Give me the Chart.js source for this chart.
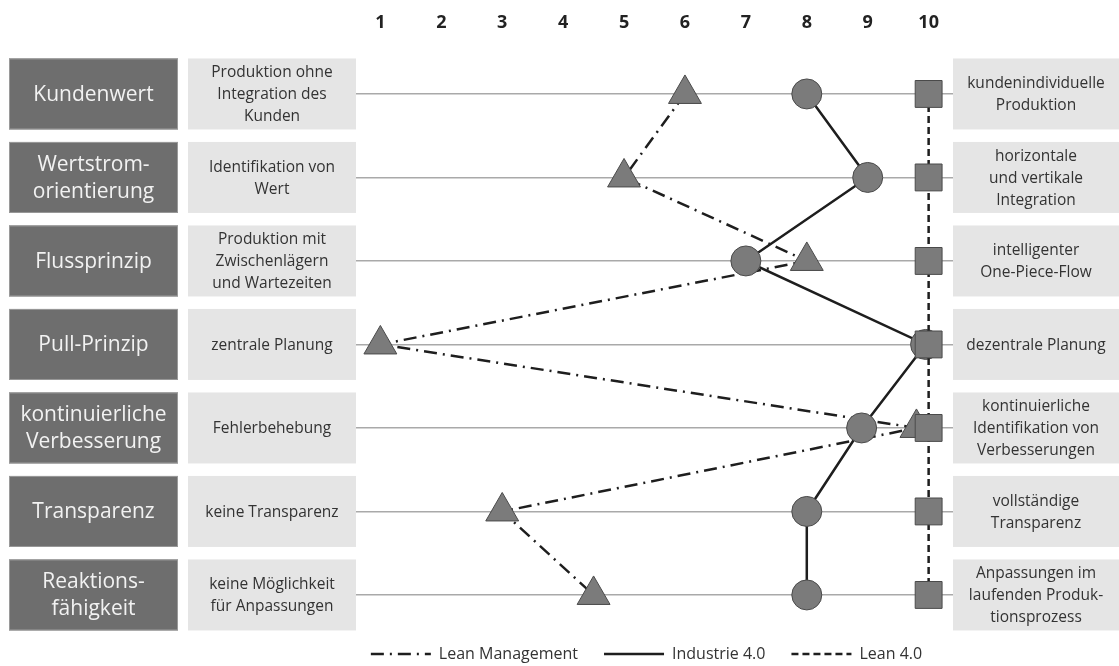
<!DOCTYPE html>
<html><head><meta charset="utf-8">
<script src="https://cdn.jsdelivr.net/npm/chart.js@4/dist/chart.umd.min.js"></script>
<style>html,body{margin:0;padding:0;background:#fff;}#wrap{width:1119px;height:666px;}</style>
</head><body><div id="wrap"><canvas id="c" width="1119" height="666"></canvas></div>
<script>
// ---- data ----
const rowNumbers = [1, 2, 3, 4, 5, 6, 7];
const principleLabels = [
  ['Kundenwert'], ['Wertstrom-', 'orientierung'], ['Flussprinzip'], ['Pull-Prinzip'],
  ['kontinuierliche', 'Verbesserung'], ['Transparenz'], ['Reaktions-', 'fähigkeit']
];
const lowEndLabels = [
  ['Produktion ohne', 'Integration des', 'Kunden'], ['Identifikation von', 'Wert'],
  ['Produktion mit', 'Zwischenlägern', 'und Wartezeiten'], ['zentrale Planung'],
  ['Fehlerbehebung'], ['keine Transparenz'], ['keine Möglichkeit', 'für Anpassungen']
];
const highEndLabels = [
  ['kundenindividuelle', 'Produktion'], ['horizontale', 'und vertikale', 'Integration'],
  ['intelligenter', 'One-Piece-Flow'], ['dezentrale Planung'],
  ['kontinuierliche', 'Identifikation von', 'Verbesserungen'], ['vollständige', 'Transparenz'],
  ['Anpassungen im', 'laufenden Produk-', 'tionsprozess']
];
const tickValues = [1, 2, 3, 4, 5, 6, 7, 8, 9, 10];
const tickLabels = ['1', '2', '3', '4', '5', '6', '7', '8', '9', '10'];
const seriesNames = ['Lean Management', 'Industrie 4.0', 'Lean 4.0'];
const leanManagement = [6, 5, 8, 1, 9.8, 3, 4.5];
const industrie40 = [8, 9, 7, 9.95, 8.9, 8, 8];
const lean40 = [10, 10, 10, 10, 10, 10, 10];

const FONT = "'Open Sans', 'DejaVu Sans', sans-serif";
const toPoints = vals => vals.map((v, i) => ({ x: v, y: rowNumbers[i] }));

const panelPlugin = {
  id: 'panels',
  beforeDraw(chart) {
    const ctx = chart.ctx, ys = chart.scales.y, ca = chart.chartArea;
    const h = 71;
    ctx.save();
    rowNumbers.forEach((r, i) => {
      const yc = ys.getPixelForValue(r);
      const top = yc - h / 2;
      ctx.fillStyle = '#6e6e6e';
      ctx.fillRect(9, top, 169, h);
      ctx.strokeStyle = '#9a9a9a'; ctx.lineWidth = 1;
      ctx.strokeRect(9.5, top + 0.5, 168, h - 1);
      ctx.fillStyle = '#e5e5e5';
      ctx.fillRect(188, top, ca.left - 188, h);
      ctx.fillRect(ca.right, top, chart.width - ca.right, h);
      ctx.textAlign = 'center'; ctx.textBaseline = 'middle';
      const drawLines = (lines, cx, lh, font, color) => {
        ctx.font = font; ctx.fillStyle = color;
        const start = yc + 1 - (lines.length - 1) * lh / 2;
        lines.forEach((t, k) => ctx.fillText(t, cx, start + k * lh));
      };
      drawLines(principleLabels[i], 93.5, 27, `21px ${FONT}`, '#f2f2f2');
      drawLines(lowEndLabels[i], (188 + ca.left) / 2, 22, `15.5px ${FONT}`, '#333');
      drawLines(highEndLabels[i], (ca.right + chart.width) / 2, 22, `15.5px ${FONT}`, '#333');
    });
    ctx.restore();
  }
};

const common = { borderColor: '#1e1e1e', borderWidth: 2.5, pointBackgroundColor: '#7b7b7b',
  pointBorderColor: '#4a4a4a', pointBorderWidth: 1, tension: 0, clip: false, fill: false };

new Chart(document.getElementById('c'), {
  type: 'line',
  data: {
    datasets: [
      Object.assign({}, common, { label: seriesNames[0], data: toPoints(leanManagement), borderDash: [13, 6, 2, 6],
        pointStyle: 'triangle', pointRadius: 19, order: 2 }),
      Object.assign({}, common, { label: seriesNames[1], data: toPoints(industrie40), borderDash: [],
        pointStyle: 'circle', pointRadius: 15, order: 1 }),
      Object.assign({}, common, { label: seriesNames[2], data: toPoints(lean40), borderDash: [7, 4],
        pointStyle: 'rect', pointRadius: 19, order: 0 })
    ]
  },
  options: {
    responsive: false, animation: false, devicePixelRatio: 1,
    layout: { padding: { left: 340, right: 166, top: 10, bottom: -6 } },
    plugins: {
      tooltip: { enabled: false },
      legend: {
        position: 'bottom',
        labels: {
          usePointStyle: true, pointStyle: 'line', pointStyleWidth: 60, padding: 26,
          color: '#333', font: { family: FONT, size: 16 },
          generateLabels: chart => chart.data.datasets.map((d, i) => ({
            text: d.label, strokeStyle: d.borderColor, fillStyle: d.borderColor, lineWidth: d.borderWidth,
            lineDash: d.borderDash, lineCap: 'butt', pointStyle: 'line', datasetIndex: i, hidden: false,
            fontColor: '#333'
          })),
          sort: (a, b) => a.datasetIndex - b.datasetIndex
        }
      }
    },
    scales: {
      x: {
        type: 'linear', position: 'top', min: 0.6, max: 10.4,
        afterBuildTicks: s => { s.ticks = tickValues.map(v => ({ value: v })); },
        afterFit: s => { s.height = 42.2; },
        ticks: { callback: v => tickLabels[tickValues.indexOf(v)], padding: 19, color: '#222',
          font: { family: FONT, size: 18, weight: 'bold' }, autoSkip: false, maxRotation: 0 },
        grid: { display: false, drawTicks: false }, border: { display: false }
      },
      y: {
        type: 'linear', reverse: true, min: 0.5, max: 7.30,
        afterBuildTicks: s => { s.ticks = rowNumbers.map(v => ({ value: v })); },
        afterFit: s => { s.width = 16; },
        ticks: { display: false },
        grid: { color: '#a9a9a9', lineWidth: 1.5, drawTicks: false }, border: { display: false }
      }
    }
  },
  plugins: [panelPlugin]
});
</script></body></html>
